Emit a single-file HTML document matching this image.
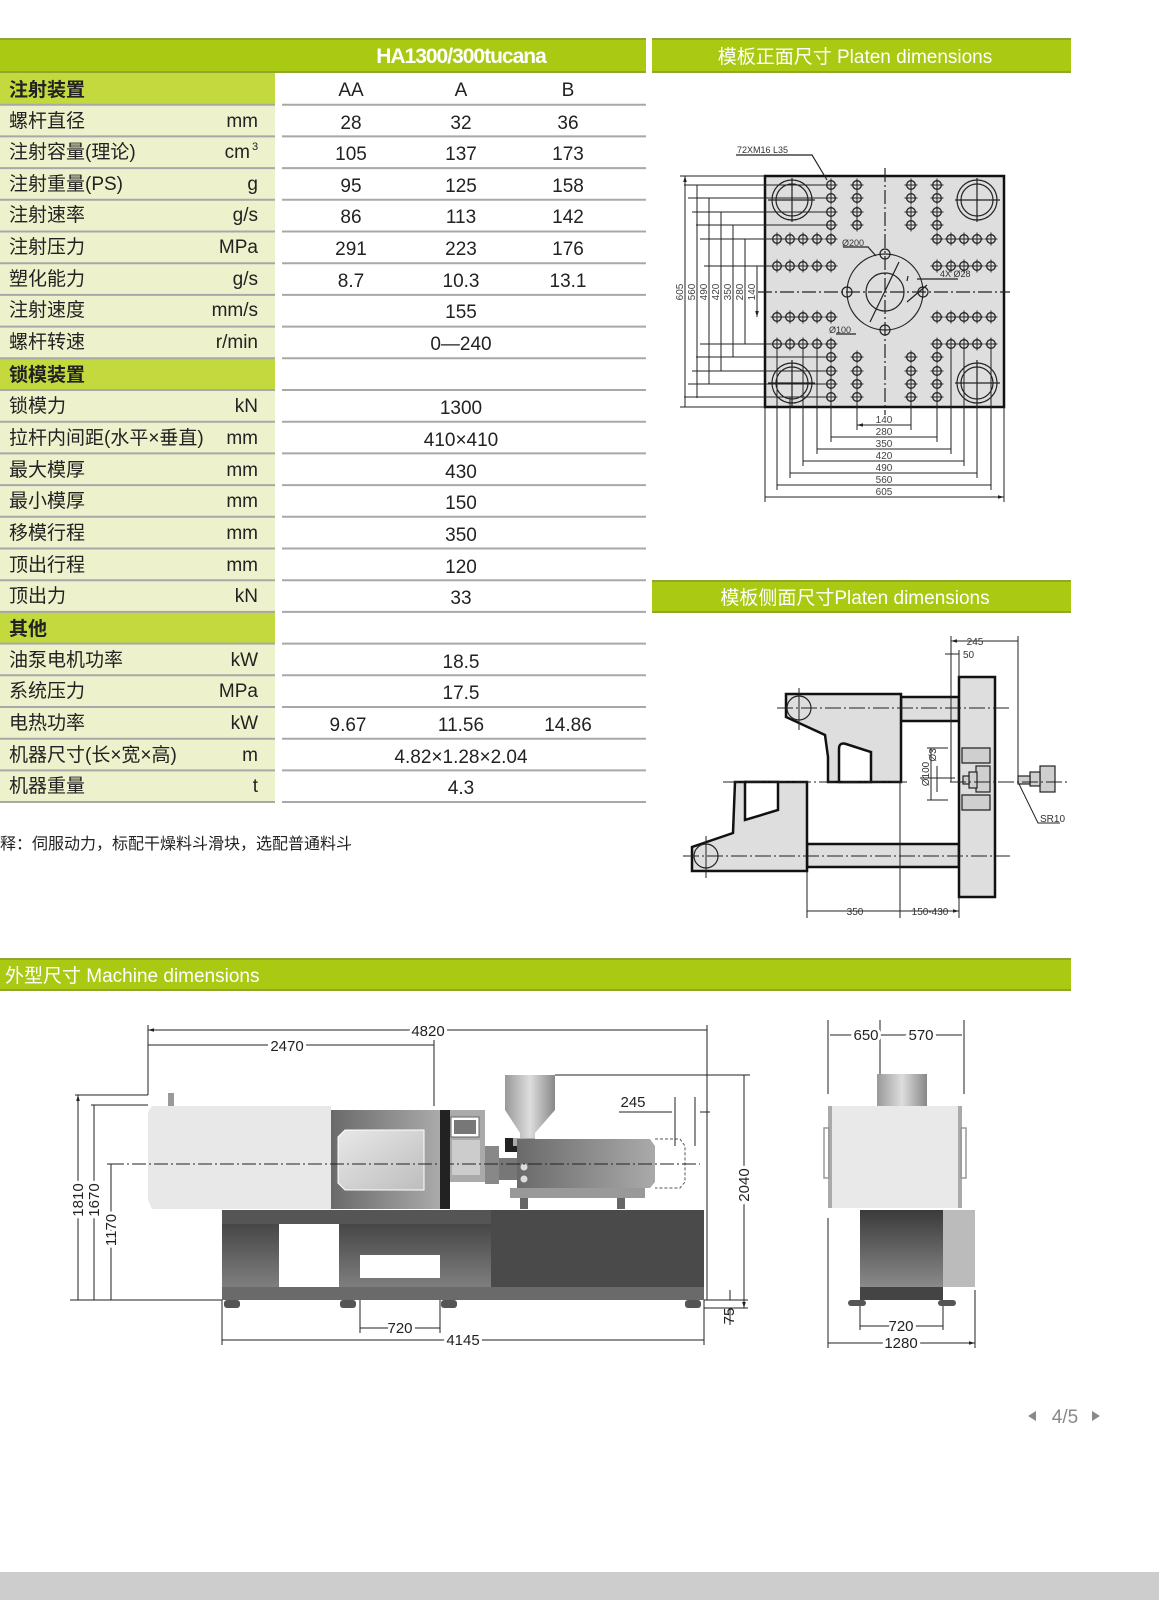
<!DOCTYPE html>
<html><head><meta charset="utf-8"><style>
html,body{margin:0;padding:0;background:#fff;}
svg{display:block;}
text{font-family:"Liberation Sans","Noto Sans CJK SC",sans-serif;}
</style></head><body>
<svg width="1159" height="1600" viewBox="0 0 1159 1600" xmlns="http://www.w3.org/2000/svg">
<defs>
<g id="h"><circle r="4.3" fill="none" stroke="#222" stroke-width="1.3"/><path d="M-6.5 0H6.5M0 -6.5V6.5" stroke="#222" stroke-width="1"/></g>
<linearGradient id="gv" x1="0" y1="0" x2="1" y2="0"><stop offset="0" stop-color="#999"/><stop offset="0.5" stop-color="#ddd"/><stop offset="1" stop-color="#888"/></linearGradient>
<linearGradient id="gd" x1="0" y1="0" x2="0" y2="1"><stop offset="0" stop-color="#3a3a3a"/><stop offset="1" stop-color="#8a8a8a"/></linearGradient>
<linearGradient id="gh" x1="0" y1="0" x2="1" y2="0"><stop offset="0" stop-color="#6a6a6a"/><stop offset="1" stop-color="#aaa"/></linearGradient>
<linearGradient id="gw" x1="0" y1="0" x2="1" y2="1"><stop offset="0" stop-color="#e8e8e8"/><stop offset="1" stop-color="#bdbdbd"/></linearGradient>
<marker id="a" viewBox="0 0 10 10" refX="10" refY="5" markerWidth="6" markerHeight="6" orient="auto-start-reverse"><path d="M0 2L10 5L0 8z" fill="#222"/></marker>
</defs>

<!-- TABLE -->
<rect x="0" y="38" width="646" height="35" fill="#a9c912"/>
<rect x="0" y="38" width="646" height="2" fill="#8fa82a"/>
<rect x="0" y="71" width="646" height="2" fill="#8fa82a"/>
<text x="461" y="63" font-size="21" font-weight="bold" fill="#fff" text-anchor="middle" letter-spacing="-1">HA1300/300tucana</text>
<rect x="0" y="73" width="275" height="729" fill="#eef2cc"/>
<rect x="0" y="73" width="275" height="31.7" fill="#c3d93d"/>
<rect x="0" y="358.3" width="275" height="31.7" fill="#c3d93d"/>
<rect x="0" y="612" width="275" height="31.7" fill="#c3d93d"/>
<g stroke="#a8a8a8" stroke-width="2">
<path d="M0 104.7H275M282 104.7H646M0 136.4H275M282 136.4H646M0 168.1H275M282 168.1H646M0 199.8H275M282 199.8H646M0 231.5H275M282 231.5H646M0 263.2H275M282 263.2H646M0 294.9H275M282 294.9H646M0 326.6H275M282 326.6H646M0 358.3H275M282 358.3H646M0 390H275M282 390H646M0 421.7H275M282 421.7H646M0 453.4H275M282 453.4H646M0 485.1H275M282 485.1H646M0 516.8H275M282 516.8H646M0 548.5H275M282 548.5H646M0 580.2H275M282 580.2H646M0 611.9H275M282 611.9H646M0 643.6H275M282 643.6H646M0 675.3H275M282 675.3H646M0 707H275M282 707H646M0 738.7H275M282 738.7H646M0 770.4H275M282 770.4H646M0 802H275M282 802H646"/>
</g>
<g font-size="19" fill="#222">
<text x="9" y="96" font-weight="bold">注射装置</text>
<text x="351" y="96" text-anchor="middle">AA</text><text x="461" y="96" text-anchor="middle">A</text><text x="568" y="96" text-anchor="middle">B</text>
<text x="9" y="127">螺杆直径</text><text x="258" y="127" text-anchor="end">mm</text>
<text x="351" y="129" text-anchor="middle">28</text><text x="461" y="129" text-anchor="middle">32</text><text x="568" y="129" text-anchor="middle">36</text>
<text x="9" y="158">注射容量(理论)</text><text x="250" y="158" text-anchor="end">cm</text><text x="252" y="150" font-size="11">3</text>
<text x="351" y="160" text-anchor="middle">105</text><text x="461" y="160" text-anchor="middle">137</text><text x="568" y="160" text-anchor="middle">173</text>
<text x="9" y="190">注射重量(PS)</text><text x="258" y="190" text-anchor="end">g</text>
<text x="351" y="192" text-anchor="middle">95</text><text x="461" y="192" text-anchor="middle">125</text><text x="568" y="192" text-anchor="middle">158</text>
<text x="9" y="221">注射速率</text><text x="258" y="221" text-anchor="end">g/s</text>
<text x="351" y="223" text-anchor="middle">86</text><text x="461" y="223" text-anchor="middle">113</text><text x="568" y="223" text-anchor="middle">142</text>
<text x="9" y="253">注射压力</text><text x="258" y="253" text-anchor="end">MPa</text>
<text x="351" y="255" text-anchor="middle">291</text><text x="461" y="255" text-anchor="middle">223</text><text x="568" y="255" text-anchor="middle">176</text>
<text x="9" y="285">塑化能力</text><text x="258" y="285" text-anchor="end">g/s</text>
<text x="351" y="287" text-anchor="middle">8.7</text><text x="461" y="287" text-anchor="middle">10.3</text><text x="568" y="287" text-anchor="middle">13.1</text>
<text x="9" y="316">注射速度</text><text x="258" y="316" text-anchor="end">mm/s</text>
<text x="461" y="318" text-anchor="middle">155</text>
<text x="9" y="348">螺杆转速</text><text x="258" y="348" text-anchor="end">r/min</text>
<text x="461" y="350" text-anchor="middle">0—240</text>
<text x="9" y="381" font-weight="bold">锁模装置</text>
<text x="9" y="412">锁模力</text><text x="258" y="412" text-anchor="end">kN</text>
<text x="461" y="414" text-anchor="middle">1300</text>
<text x="9" y="444">拉杆内间距(水平×垂直)</text><text x="258" y="444" text-anchor="end">mm</text>
<text x="461" y="446" text-anchor="middle">410×410</text>
<text x="9" y="476">最大模厚</text><text x="258" y="476" text-anchor="end">mm</text>
<text x="461" y="478" text-anchor="middle">430</text>
<text x="9" y="507">最小模厚</text><text x="258" y="507" text-anchor="end">mm</text>
<text x="461" y="509" text-anchor="middle">150</text>
<text x="9" y="539">移模行程</text><text x="258" y="539" text-anchor="end">mm</text>
<text x="461" y="541" text-anchor="middle">350</text>
<text x="9" y="571">顶出行程</text><text x="258" y="571" text-anchor="end">mm</text>
<text x="461" y="573" text-anchor="middle">120</text>
<text x="9" y="602">顶出力</text><text x="258" y="602" text-anchor="end">kN</text>
<text x="461" y="604" text-anchor="middle">33</text>
<text x="9" y="635" font-weight="bold">其他</text>
<text x="9" y="666">油泵电机功率</text><text x="258" y="666" text-anchor="end">kW</text>
<text x="461" y="668" text-anchor="middle">18.5</text>
<text x="9" y="697">系统压力</text><text x="258" y="697" text-anchor="end">MPa</text>
<text x="461" y="699" text-anchor="middle">17.5</text>
<text x="9" y="729">电热功率</text><text x="258" y="729" text-anchor="end">kW</text>
<text x="348" y="731" text-anchor="middle">9.67</text><text x="461" y="731" text-anchor="middle">11.56</text><text x="568" y="731" text-anchor="middle">14.86</text>
<text x="9" y="761">机器尺寸(长×宽×高)</text><text x="258" y="761" text-anchor="end">m</text>
<text x="461" y="763" text-anchor="middle">4.82×1.28×2.04</text>
<text x="9" y="792">机器重量</text><text x="258" y="792" text-anchor="end">t</text>
<text x="461" y="794" text-anchor="middle">4.3</text>
<text x="0" y="849" font-size="16">释：伺服动力，标配干燥料斗滑块，选配普通料斗</text>
</g>

<!-- HEADERS right -->
<rect x="652" y="38" width="419" height="35" fill="#a9c912"/>
<rect x="652" y="38" width="419" height="2" fill="#8fa82a"/><rect x="652" y="71" width="419" height="2" fill="#8fa82a"/>
<text x="855" y="63" font-size="19" fill="#fff" text-anchor="middle">模板正面尺寸 Platen dimensions</text>
<rect x="652" y="580" width="419" height="33" fill="#a9c912"/>
<rect x="652" y="580" width="419" height="2" fill="#8fa82a"/><rect x="652" y="611" width="419" height="2" fill="#8fa82a"/>
<text x="855" y="604" font-size="19" fill="#fff" text-anchor="middle">模板侧面尺寸Platen dimensions</text>
<rect x="0" y="958" width="1071" height="33" fill="#a9c912"/>
<rect x="0" y="958" width="1071" height="2" fill="#8fa82a"/><rect x="0" y="989" width="1071" height="2" fill="#8fa82a"/>
<text x="5" y="982" font-size="19" fill="#fff">外型尺寸 Machine dimensions</text>

<!-- FRONT PLATEN -->
<rect x="765" y="176" width="239" height="231" fill="#dedede" stroke="#111" stroke-width="2.5"/>
<g fill="none" stroke="#222" stroke-width="1.2">
<path d="M885 168V415M758 292H1010" stroke-dasharray="14 3 2 3"/>
<circle cx="885" cy="292" r="38"/><circle cx="885" cy="292" r="19"/>
<circle cx="885" cy="254" r="5"/><circle cx="885" cy="330" r="5"/><circle cx="847" cy="292" r="5"/><circle cx="923" cy="292" r="5"/>
<path d="M870 322L899 262M907 281L908 276"/>
<circle cx="792" cy="200" r="20"/><circle cx="792" cy="200" r="16"/>
<circle cx="977" cy="200" r="20"/><circle cx="977" cy="200" r="16"/>
<circle cx="792" cy="383" r="20"/><circle cx="792" cy="383" r="16"/>
<circle cx="977" cy="383" r="20"/><circle cx="977" cy="383" r="16"/>
<path d="M768 200H815M792 178V222M955 200H1000M977 178V222M768 383H815M792 360V407M955 383H1000M977 360V407"/>
<path d="M736 155H812L827 180"/>
<path d="M843 247H868L876 256M856 334H836M917 279H958M907 302L927 285"/>
</g>
<g font-size="9" fill="#333" font-family="DejaVu Sans,sans-serif">
<text x="737" y="153">72XM16 L35</text>
<text x="842" y="246">Ø200</text>
<text x="829" y="333">Ø100</text>
<text x="940" y="277">4X Ø28</text>
</g>
<g>
<use href="#h" x="831" y="185"/><use href="#h" x="857" y="185"/><use href="#h" x="911" y="185"/><use href="#h" x="937" y="185"/>
<use href="#h" x="831" y="198"/><use href="#h" x="857" y="198"/><use href="#h" x="911" y="198"/><use href="#h" x="937" y="198"/>
<use href="#h" x="831" y="212"/><use href="#h" x="857" y="212"/><use href="#h" x="911" y="212"/><use href="#h" x="937" y="212"/>
<use href="#h" x="831" y="225"/><use href="#h" x="857" y="225"/><use href="#h" x="911" y="225"/><use href="#h" x="937" y="225"/>
<use href="#h" x="831" y="357"/><use href="#h" x="857" y="357"/><use href="#h" x="911" y="357"/><use href="#h" x="937" y="357"/>
<use href="#h" x="831" y="371"/><use href="#h" x="857" y="371"/><use href="#h" x="911" y="371"/><use href="#h" x="937" y="371"/>
<use href="#h" x="831" y="384"/><use href="#h" x="857" y="384"/><use href="#h" x="911" y="384"/><use href="#h" x="937" y="384"/>
<use href="#h" x="831" y="397"/><use href="#h" x="857" y="397"/><use href="#h" x="911" y="397"/><use href="#h" x="937" y="397"/>
<use href="#h" x="777" y="239"/><use href="#h" x="790" y="239"/><use href="#h" x="803" y="239"/><use href="#h" x="817" y="239"/><use href="#h" x="831" y="239"/><use href="#h" x="937" y="239"/><use href="#h" x="951" y="239"/><use href="#h" x="964" y="239"/><use href="#h" x="977" y="239"/><use href="#h" x="991" y="239"/>
<use href="#h" x="777" y="266"/><use href="#h" x="790" y="266"/><use href="#h" x="803" y="266"/><use href="#h" x="817" y="266"/><use href="#h" x="831" y="266"/><use href="#h" x="937" y="266"/><use href="#h" x="951" y="266"/><use href="#h" x="964" y="266"/><use href="#h" x="977" y="266"/><use href="#h" x="991" y="266"/>
<use href="#h" x="777" y="317"/><use href="#h" x="790" y="317"/><use href="#h" x="803" y="317"/><use href="#h" x="817" y="317"/><use href="#h" x="831" y="317"/><use href="#h" x="937" y="317"/><use href="#h" x="951" y="317"/><use href="#h" x="964" y="317"/><use href="#h" x="977" y="317"/><use href="#h" x="991" y="317"/>
<use href="#h" x="777" y="344"/><use href="#h" x="790" y="344"/><use href="#h" x="803" y="344"/><use href="#h" x="817" y="344"/><use href="#h" x="831" y="344"/><use href="#h" x="937" y="344"/><use href="#h" x="951" y="344"/><use href="#h" x="964" y="344"/><use href="#h" x="977" y="344"/><use href="#h" x="991" y="344"/>
</g>
<!-- front platen dims -->
<g stroke="#222" stroke-width="1" fill="none">
<path d="M680 176H765M684 185H831M688 198H831M692 212H831M696 225H831M700 239H777M704 266H777M700 344H777M696 357H831M692 371H831M688 384H831M684 397H831M680 407H765"/>
<path d="M685 176V407M697 185V398M709 198V384M721 212V371M733 225V357M745 239V344M757 266V317" marker-start="url(#a)" marker-end="url(#a)"/>
<path d="M857 397V430M911 397V430M831 397V442M937 397V442M817 344V454M951 344V454M803 344V466M964 344V466M790 397V478M977 397V478M777 344V490M991 344V490M765 407V502M1004 407V502"/>
<path d="M857 425H911M831 437H937M817 449H951M803 461H964M790 473H977M777 485H991M765 497H1004" marker-start="url(#a)" marker-end="url(#a)"/>
</g>
<g font-size="10" fill="#444" text-anchor="middle" font-family="DejaVu Sans,sans-serif">
<text x="884" y="423">140</text><text x="884" y="435">280</text><text x="884" y="447">350</text><text x="884" y="459">420</text><text x="884" y="471">490</text><text x="884" y="483">560</text><text x="884" y="495">605</text>
<g transform="rotate(-90)"><text x="-292" y="683">605</text><text x="-292" y="695">560</text><text x="-292" y="707">490</text><text x="-292" y="719">420</text><text x="-292" y="731">350</text><text x="-292" y="743">280</text><text x="-292" y="755">140</text></g>
</g>

<!-- SIDE PLATEN -->
<g stroke="#111" stroke-width="2.5" fill="#dedede">
<rect x="901" y="697" width="58" height="24"/>
<rect x="807" y="844" width="152" height="23"/>
<path d="M786 694H901V782H828V757L825 735L786 717Z"/>
<path d="M735 782H807V871H692V847L733 833Z"/>
<rect x="959" y="677" width="36" height="220"/>
</g>
<g stroke="#111" stroke-width="2.5" fill="#fff">
<path d="M839 782V749Q839 742 846 744L871 752V782Z"/>
<path d="M745 782V820L778 810V782Z"/>
</g>
<g fill="#cfcfcf" stroke="#222" stroke-width="1.2">
<path d="M962 748H990V763H962Z"/><path d="M962 795H990V810H962Z"/>
<rect x="976" y="766" width="14" height="26"/><rect x="969" y="772" width="8" height="16"/><rect x="963" y="776" width="6" height="8"/>
<rect x="1040" y="766" width="15" height="26"/><rect x="1030" y="772" width="10" height="14"/><rect x="1018" y="776" width="12" height="8"/>
</g>
<circle cx="799" cy="708" r="12" fill="none" stroke="#222" stroke-width="1.2"/>
<circle cx="706" cy="856" r="12" fill="none" stroke="#222" stroke-width="1.2"/>
<g stroke="#222" stroke-width="1" fill="none">
<path d="M777 708H1010M723 782H910M950 782H1070M683 856H1010" stroke-dasharray="16 3 2 3"/>
<path d="M799 688V730M706 836V878"/>
<path d="M951 636V782M959 650V677M1018 636V782M807 871V918M900 782V918M959 897V918"/>
<path d="M951 641H1018M945 654H959M807 911H900M900 911H959" marker-start="url(#a)" marker-end="url(#a)"/>
<path d="M927 748H948M927 800H948M931 748V800M920 778H955M937 766V792"/>
<path d="M1019 784L1038 823H1060"/>
</g>
<g font-size="10" fill="#333" font-family="DejaVu Sans,sans-serif">
<text x="975" y="645" text-anchor="middle">245</text><text x="963" y="658">50</text>
<text x="855" y="915" text-anchor="middle">350</text><text x="930" y="915" text-anchor="middle">150-430</text>
<text x="1040" y="822">SR10</text>
<g transform="rotate(-90)"><text x="-774" y="929" text-anchor="middle">Ø100</text><text x="-755" y="936" text-anchor="middle">Ø3</text></g>
</g>

<!-- MACHINE SIDE VIEW -->
<rect x="222" y="1210" width="482" height="90" fill="url(#gd)"/>
<rect x="222" y="1210" width="270" height="14" fill="#555"/>
<rect x="491" y="1210" width="213" height="90" fill="#4a4a4a"/>
<rect x="279" y="1224" width="60" height="63" fill="#fff"/>
<rect x="360" y="1255" width="80" height="23" fill="#fff"/>
<rect x="222" y="1287" width="482" height="13" fill="#6a6a6a"/>
<g fill="#555"><rect x="224" y="1300" width="16" height="8" rx="3"/><rect x="340" y="1300" width="16" height="8" rx="3"/><rect x="441" y="1300" width="16" height="8" rx="3"/><rect x="685" y="1300" width="16" height="8" rx="3"/></g>
<path d="M152 1106H331V1209H152L148 1200V1112Z" fill="#e8e8e8"/>
<rect x="168" y="1093" width="6" height="13" fill="#999"/>
<rect x="331" y="1110" width="109" height="99" fill="url(#gh)"/>
<path d="M345 1130H424V1190H345L338 1183V1137Z" fill="url(#gw)" stroke="#fff"/>
<rect x="440" y="1110" width="45" height="72" fill="#aaa"/>
<rect x="440" y="1110" width="10" height="99" fill="#222"/>
<rect x="451" y="1117" width="28" height="20" fill="#fff" stroke="#666"/><rect x="454" y="1120" width="22" height="14" fill="#777"/>
<rect x="452" y="1140" width="28" height="35" fill="#ccc"/>
<rect x="485" y="1146" width="14" height="38" fill="#888"/>
<rect x="499" y="1158" width="20" height="22" fill="#777"/>
<rect x="505" y="1138" width="18" height="14" fill="#222"/>
<path d="M505 1075H555V1110L535 1133V1140H520V1133L505 1110Z" fill="url(#gv)"/>
<rect x="513" y="1138" width="22" height="8" fill="#aaa"/>
<path d="M517 1139H650L655 1146V1182L650 1188H517Z" fill="url(#gh)"/>
<path d="M655 1139H680L685 1146V1182L680 1188H655" fill="none" stroke="#555" stroke-dasharray="3 2"/>
<rect x="510" y="1188" width="135" height="10" fill="#999"/>
<rect x="520" y="1198" width="8" height="11" fill="#666"/><rect x="617" y="1198" width="8" height="11" fill="#666"/>
<circle cx="524" cy="1167" r="3.5" fill="#ddd"/><circle cx="524" cy="1179" r="3.5" fill="#ddd"/>
<g stroke="#222" stroke-width="1" fill="none">
<path d="M110 1164H700" stroke-dasharray="14 3 2 3"/>
<path d="M148 1025V1095M707 1025V1300M434 1040V1106M555 1075H750M675 1097V1146M695 1097V1146M704 1300H748M704 1308H748"/>
<path d="M75 1095H148M91 1105H148M107 1164H120M70 1300H222"/>
<path d="M148 1030H707M148 1045H434M360 1328H440M222 1340H704M830 1035H880M880 1035H962M860 1326H943M828 1343H975" marker-start="url(#a)" marker-end="url(#a)"/>
<path d="M619 1112H672M710 1112H700" />
<path d="M78 1095V1300M94 1105V1300M111 1164V1300M744 1075V1308" marker-start="url(#a)" marker-end="url(#a)"/>
<path d="M730 1290V1300M730 1308V1325"/>
<path d="M222 1300V1345M704 1300V1345M360 1300V1333M440 1300V1333"/>
<path d="M828 1020V1094M964 1020V1094M880 1020V1074M828 1218V1348M975 1290V1348M860 1305V1330M943 1305V1330"/>
</g>
<g font-size="15" fill="#222" text-anchor="middle">
<text x="428" y="1036" fill="#222" style="paint-order:stroke" stroke="#fff" stroke-width="6">4820</text>
<text x="287" y="1051" style="paint-order:stroke" stroke="#fff" stroke-width="6">2470</text>
<text x="633" y="1107">245</text>
<text x="400" y="1333" style="paint-order:stroke" stroke="#fff" stroke-width="6">720</text>
<text x="463" y="1345" style="paint-order:stroke" stroke="#fff" stroke-width="6">4145</text>
<text x="866" y="1040" style="paint-order:stroke" stroke="#fff" stroke-width="6">650</text>
<text x="921" y="1040" style="paint-order:stroke" stroke="#fff" stroke-width="6">570</text>
<text x="901" y="1331" style="paint-order:stroke" stroke="#fff" stroke-width="6">720</text>
<text x="901" y="1348" style="paint-order:stroke" stroke="#fff" stroke-width="6">1280</text>
<g transform="rotate(-90)">
<text x="-1200" y="83" style="paint-order:stroke" stroke="#fff" stroke-width="6">1810</text>
<text x="-1200" y="99" style="paint-order:stroke" stroke="#fff" stroke-width="6">1670</text>
<text x="-1230" y="116" style="paint-order:stroke" stroke="#fff" stroke-width="6">1170</text>
<text x="-1185" y="749" style="paint-order:stroke" stroke="#fff" stroke-width="6">2040</text>
<text x="-1316" y="734">75</text>
</g>
</g>

<!-- END VIEW -->
<rect x="877" y="1074" width="50" height="32" fill="url(#gv)"/>
<rect x="828" y="1106" width="134" height="102" fill="#e9e9e9"/>
<rect x="828" y="1106" width="4" height="102" fill="#aaa"/><rect x="958" y="1106" width="4" height="102" fill="#aaa"/>
<rect x="824" y="1128" width="5" height="50" fill="none" stroke="#999" stroke-width="1.5"/>
<rect x="961" y="1128" width="5" height="50" fill="none" stroke="#999" stroke-width="1.5"/>
<rect x="860" y="1210" width="83" height="77" fill="url(#gd)"/>
<rect x="943" y="1210" width="32" height="77" fill="#bbb"/>
<rect x="860" y="1287" width="83" height="13" fill="#444"/>
<rect x="848" y="1300" width="18" height="6" rx="3" fill="#555"/><rect x="938" y="1300" width="18" height="6" rx="3" fill="#555"/>

<!-- pager -->
<path d="M1036 1411L1028 1416L1036 1421Z" fill="#888"/>
<text x="1065" y="1423" font-size="19" fill="#888" text-anchor="middle">4/5</text>
<path d="M1092 1411L1100 1416L1092 1421Z" fill="#888"/>
<rect x="0" y="1572" width="1159" height="28" fill="#cdcdcd"/>
</svg>
</body></html>
